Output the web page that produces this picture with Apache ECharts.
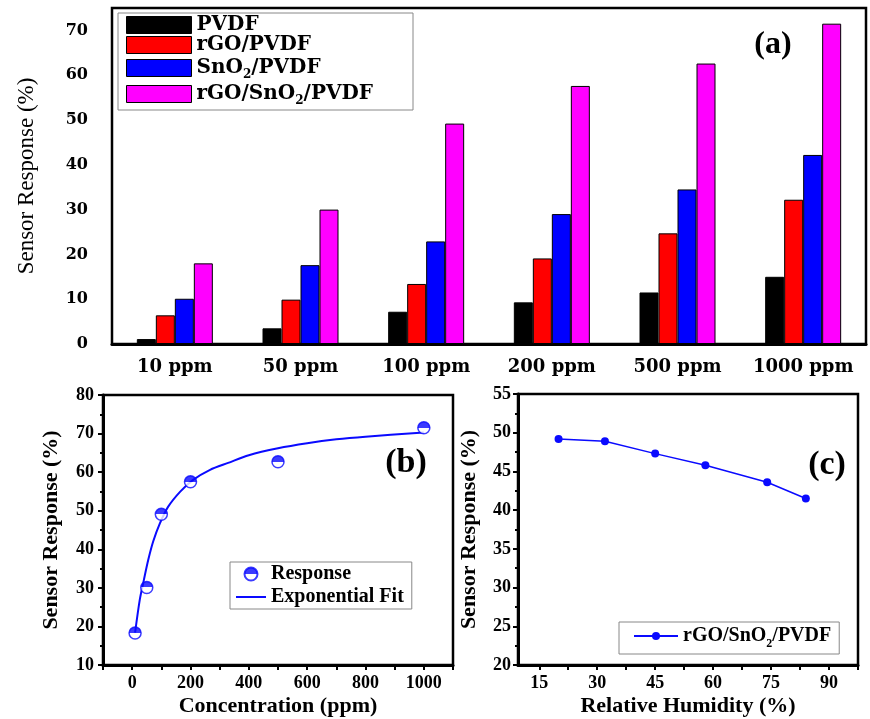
<!DOCTYPE html>
<html>
<head>
<meta charset="utf-8">
<script src="https://cdn.jsdelivr.net/npm/echarts@6/dist/echarts.min.js"></script>
<style>
  html, body { margin: 0; padding: 0; background: #fff; }
  #chart { width: 870px; height: 719px; }
</style>
</head>
<body>
<div id="chart"></div>
<script>
// (a) response of the four films per gas concentration
const gasCategories = ["10 ppm", "50 ppm", "100 ppm", "200 ppm", "500 ppm", "1000 ppm"];
const pvdf = [1.1, 3.5, 7.2, 9.3, 11.5, 15.0];
const rgoPvdf = [6.4, 9.9, 13.4, 19.1, 24.7, 32.2];
const sno2Pvdf = [10.1, 17.6, 22.9, 29.0, 34.5, 42.2];
const rgoSno2Pvdf = [18.0, 30.0, 49.2, 57.6, 62.6, 71.5];
const yLabelsA = [0, 10, 20, 30, 40, 50, 60, 70];

// (b) response vs concentration + fitted curve
const concX = [10, 50, 100, 200, 500, 1000];
const responseY = [18.3, 30.1, 49.1, 57.5, 62.7, 71.5];
const fitX = [10, 26, 40, 55, 72, 95, 123, 164, 209, 267, 329, 400, 500, 600, 700, 800, 1000];
const fitY = [18.4, 26.9, 32.0, 37.2, 42.0, 46.7, 51.0, 54.9, 58.0, 60.6, 62.4, 64.4, 66.2, 67.5, 68.5, 69.2, 70.3];
const xLabelsB = [0, 200, 400, 600, 800, 1000];

// (c) response vs relative humidity
const humidityX = [20, 32, 45, 58, 74, 84];
const humidityY = [49.2, 48.9, 47.3, 45.8, 43.6, 41.5];
const xLabelsC = [15, 30, 45, 60, 75, 90];
const xTicksC = [15, 22.5, 30, 37.5, 45, 52.5, 60, 67.5, 75, 82.5, 90, 97.5];

const serifA = "DejaVu Serif";
const serif = "Liberation Serif";
const blue = "#0a0aff";

const axisLine = { onZero: false, lineStyle: { color: "#000", width: 3 } };
const labelB = { color: "#000", fontFamily: serif, fontWeight: "bold", fontSize: 18, formatter: (v) => String(v) };
const nameB = { color: "#000", fontFamily: serif, fontWeight: "bold", fontSize: 22 };

const sub = (name) => name.replace("SnO2", "SnO{s|2}");

const chart = echarts.init(document.getElementById("chart"));
const option = {
  animation: false,
  backgroundColor: "#fff",
  grid: [
    { left: 112, top: 8, right: 4, bottom: 375, show: true, borderColor: "#000", borderWidth: 2.5 },
    { left: 103, top: 395, right: 417, bottom: 54, show: true, borderColor: "#000", borderWidth: 2.5 },
    { left: 518, top: 394, right: 12, bottom: 54, show: true, borderColor: "#000", borderWidth: 2.5 },
  ],
  legend: [
    {
      orient: "vertical",
      left: 118,
      top: 13,
      padding: [2, 40, 3, 8],
      itemGap: 0,
      itemWidth: 65,
      itemHeight: 17,
      icon: "rect",
      itemStyle: { borderColor: "#000", borderWidth: 1 },
      borderColor: "#888",
      borderWidth: 1,
      backgroundColor: "#fff",
      data: ["PVDF", "rGO/PVDF", "SnO2/PVDF", "rGO/SnO2/PVDF"],
      formatter: sub,
      textStyle: {
        color: "#000",
        fontFamily: serifA,
        fontWeight: "bold",
        fontSize: 20,
        lineHeight: 20,
        rich: { s: { fontFamily: serifA, fontWeight: "bold", fontSize: 12, lineHeight: 26, verticalAlign: "bottom" } },
      },
    },
    {
      orient: "vertical",
      left: 230,
      top: 562,
      padding: [2, 8, 2, 6],
      itemGap: 3,
      itemWidth: 30,
      itemHeight: 13,
      borderColor: "#888",
      borderWidth: 1,
      data: [
        { name: "Response" },
        { name: "Exponential Fit", icon: "path://M0,0H30V2H0Z" },
      ],
      textStyle: { color: "#000", fontFamily: serif, fontWeight: "bold", fontSize: 20 },
    },
    {
      orient: "vertical",
      left: 619,
      top: 622,
      padding: [4, 8, 4, 14],
      itemWidth: 44,
      itemHeight: 10,
      borderColor: "#888",
      borderWidth: 1,
      data: ["rGO/SnO2/PVDF (RH)"],
      formatter: () => "rGO/SnO{s|2}/PVDF",
      textStyle: {
        color: "#000",
        fontFamily: serif,
        fontWeight: "bold",
        fontSize: 20,
        rich: { s: { fontFamily: serif, fontWeight: "bold", fontSize: 12, lineHeight: 28, verticalAlign: "bottom" } },
      },
    },
  ],
  xAxis: [
    {
      gridIndex: 0,
      type: "category",
      data: gasCategories,
      axisLine: axisLine,
      axisTick: { alignWithLabel: true, length: 7, lineStyle: { width: 3, color: "#000" } },
      axisLabel: { interval: 0, color: "#000", fontFamily: serifA, fontWeight: "bold", fontSize: 18, margin: 14 },
      splitLine: { show: false },
    },
    {
      // boundary marks between groups
      gridIndex: 0,
      type: "category",
      position: "bottom",
      data: gasCategories,
      axisLine: { show: false },
      axisTick: { interval: 0, length: 3, lineStyle: { width: 3, color: "#000" } },
      axisLabel: { show: false },
    },
    {
      gridIndex: 1,
      type: "value",
      min: -100,
      max: 1100,
      interval: 100,
      axisLine: axisLine,
      axisTick: { length: 5, lineStyle: { width: 2, color: "#000" } },
      axisLabel: Object.assign({ margin: 9, customValues: xLabelsB }, labelB),
      splitLine: { show: false },
      name: "Concentration (ppm)",
      nameLocation: "middle",
      nameGap: 30,
      nameTextStyle: nameB,
    },
    {
      gridIndex: 2,
      type: "value",
      min: 9.5,
      max: 97.5,
      axisLine: axisLine,
      axisTick: { length: 5, customValues: xTicksC, lineStyle: { width: 2, color: "#000" } },
      axisLabel: Object.assign({ margin: 9, customValues: xLabelsC }, labelB),
      splitLine: { show: false },
      name: "Relative Humidity (%)",
      nameLocation: "middle",
      nameGap: 30,
      nameTextStyle: nameB,
    },
  ],
  yAxis: [
    {
      gridIndex: 0,
      type: "value",
      min: 0,
      max: 75,
      interval: 5,
      axisLine: axisLine,
      axisTick: { length: 7, lineStyle: { width: 2.5, color: "#000" } },
      axisLabel: { color: "#000", fontFamily: serifA, fontWeight: "bold", fontSize: 16, margin: 24, customValues: yLabelsA },
      splitLine: { show: false },
      name: "Sensor Response (%)",
      nameLocation: "middle",
      nameGap: 74,
      nameTextStyle: { color: "#000", fontFamily: serif, fontSize: 23 },
    },
    {
      // long major ticks
      gridIndex: 0,
      type: "value",
      min: 0,
      max: 75,
      interval: 5,
      axisLine: { show: false, onZero: false },
      axisTick: { length: 13, customValues: yLabelsA, lineStyle: { width: 2.5, color: "#000" } },
      axisLabel: { show: false },
      splitLine: { show: false },
    },
    {
      gridIndex: 1,
      type: "value",
      min: 10,
      max: 80,
      interval: 10,
      axisLine: axisLine,
      axisTick: { length: 5, lineStyle: { width: 2, color: "#000" } },
      minorTick: { show: true, splitNumber: 2, length: 3, lineStyle: { width: 2, color: "#000" } },
      axisLabel: Object.assign({ margin: 9 }, labelB),
      splitLine: { show: false },
      name: "Sensor Response (%)",
      nameLocation: "middle",
      nameGap: 41,
      nameTextStyle: nameB,
    },
    {
      gridIndex: 2,
      type: "value",
      min: 20,
      max: 55,
      interval: 5,
      axisLine: axisLine,
      axisTick: { length: 5, lineStyle: { width: 2, color: "#000" } },
      minorTick: { show: true, splitNumber: 2, length: 3, lineStyle: { width: 2, color: "#000" } },
      axisLabel: Object.assign({ margin: 7 }, labelB),
      splitLine: { show: false },
      name: "Sensor Response (%)",
      nameLocation: "middle",
      nameGap: 38,
      nameTextStyle: nameB,
    },
  ],
  series: [
    { name: "PVDF", type: "bar", data: pvdf, color: "#000" },
    { name: "rGO/PVDF", type: "bar", data: rgoPvdf, color: "#ff0000" },
    { name: "SnO2/PVDF", type: "bar", data: sno2Pvdf, color: "#0000ff" },
    { name: "rGO/SnO2/PVDF", type: "bar", data: rgoSno2Pvdf, color: "#ff00ff" },
  ].map((s) => Object.assign(s, {
    xAxisIndex: 0,
    yAxisIndex: 0,
    barWidth: 19,
    barGap: "0%",
    itemStyle: { color: s.color, borderColor: "#000", borderWidth: 1 },
  })).concat([
    {
      name: "Exponential Fit",
      type: "line",
      xAxisIndex: 2,
      yAxisIndex: 2,
      smooth: 0.3,
      symbol: "none",
      color: blue,
      lineStyle: { color: blue, width: 2 },
      data: fitX.map((x, i) => [x, fitY[i]]),
      z: 2,
    },
    {
      name: "Response",
      type: "scatter",
      xAxisIndex: 2,
      yAxisIndex: 2,
      symbolSize: 12,
      itemStyle: {
        color: {
          type: "linear", x: 0, y: 0, x2: 0, y2: 1,
          colorStops: [
            { offset: 0, color: blue }, { offset: 0.5, color: blue },
            { offset: 0.5, color: "#fff" }, { offset: 1, color: "#fff" },
          ],
        },
        borderColor: blue,
        borderWidth: 1.5,
      },
      data: concX.map((x, i) => [x, responseY[i]]),
      z: 3,
    },
    {
      name: "rGO/SnO2/PVDF (RH)",
      type: "line",
      xAxisIndex: 3,
      yAxisIndex: 3,
      symbol: "circle",
      symbolSize: 8,
      color: blue,
      lineStyle: { color: blue, width: 1.5 },
      itemStyle: { color: blue },
      data: humidityX.map((x, i) => [x, humidityY[i]]),
    },
  ]),
  graphic: [
    { type: "text", x: 773, y: 45, style: { text: "(a)", font: "bold 32px 'Liberation Serif'", fill: "#000", align: "center", verticalAlign: "middle" } },
    { type: "text", x: 406, y: 463, style: { text: "(b)", font: "bold 34px 'Liberation Serif'", fill: "#000", align: "center", verticalAlign: "middle" } },
    { type: "text", x: 827, y: 465, style: { text: "(c)", font: "bold 34px 'Liberation Serif'", fill: "#000", align: "center", verticalAlign: "middle" } },
  ],
};
chart.setOption(option);
</script>
</body>
</html>
